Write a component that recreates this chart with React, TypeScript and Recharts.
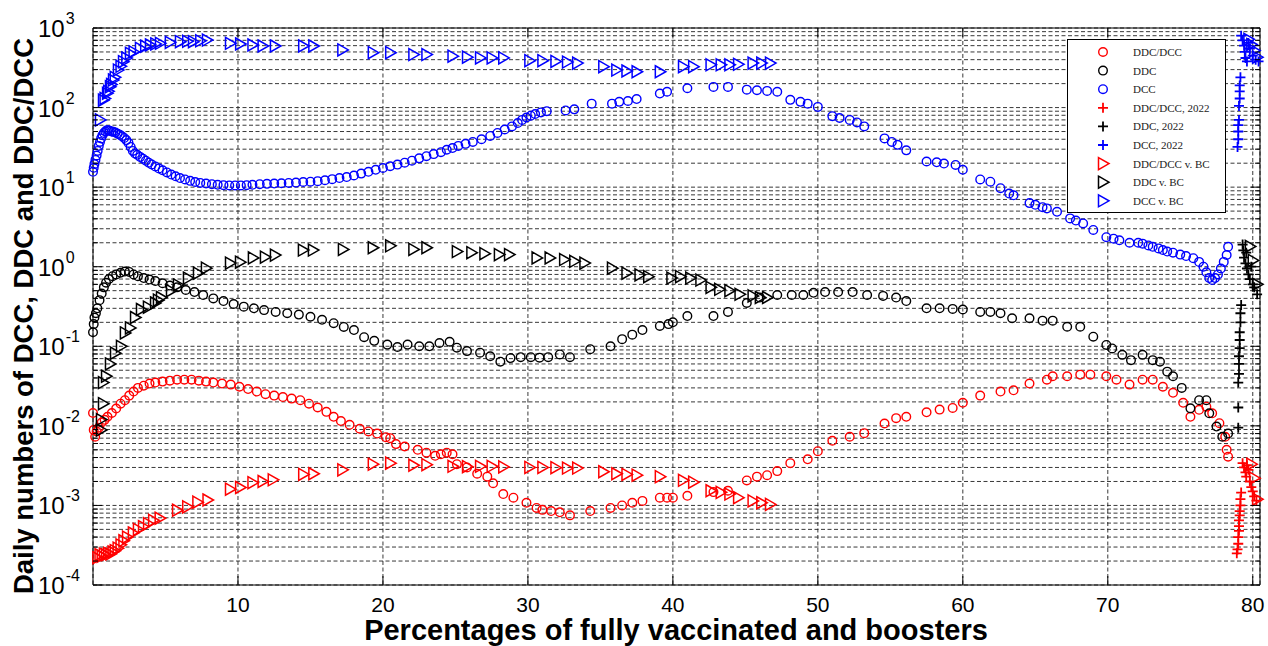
import React from 'react';
import { ScatterChart, Scatter, XAxis, YAxis, CartesianGrid, ReferenceArea, Legend, Label } from 'recharts';

type Pt = [number, number];

// DDC/DCC, circles
const ratioCircles: Pt[] = [
  [0, 0.0145], [0.05, 0.0089], [0.15, 0.0073], [0.25, 0.0085], [0.4, 0.0095], [0.6, 0.011], [0.8, 0.0119],
  [1.0, 0.013], [1.3, 0.0145], [1.6, 0.0165], [1.9, 0.019], [2.2, 0.021], [2.5, 0.024], [2.8, 0.027],
  [3.1, 0.03], [3.5, 0.032], [3.9, 0.034], [4.3, 0.035], [4.8, 0.036], [5.3, 0.037], [5.8, 0.038],
  [6.3, 0.038], [6.8, 0.038], [7.3, 0.037], [7.8, 0.036], [8.3, 0.035], [8.9, 0.034], [9.5, 0.033],
  [10.1, 0.031], [10.7, 0.029], [11.3, 0.027], [11.9, 0.025], [12.5, 0.024], [13.1, 0.023], [13.7, 0.022],
  [14.3, 0.021], [14.9, 0.019], [15.5, 0.017], [16.1, 0.015], [16.6, 0.013], [17.1, 0.0115], [17.7, 0.0103],
  [18.4, 0.0092], [19.0, 0.0085], [19.6, 0.008], [20.2, 0.0072], [20.5, 0.007], [20.9, 0.0059], [21.5, 0.0055],
  [22.4, 0.005], [23.0, 0.0046], [23.6, 0.0042], [24.0, 0.0044], [24.4, 0.0046], [24.8, 0.0044], [25.1, 0.0033],
  [25.8, 0.003], [26.5, 0.0025], [27.2, 0.0023], [27.6, 0.0019], [28.3, 0.00139], [29.0, 0.00125], [29.9, 0.00108],
  [30.6, 0.00093], [31.0, 0.00088], [31.6, 0.00085], [32.2, 0.00082], [32.9, 0.00075], [34.3, 0.00085],
  [35.7, 0.00093], [36.5, 0.001], [37.2, 0.00108], [37.9, 0.00114], [39.1, 0.00125], [39.6, 0.00125],
  [40.0, 0.00125], [41.0, 0.00132], [42.8, 0.00147], [43.8, 0.00153], [45.1, 0.00206], [45.8, 0.0023],
  [46.5, 0.0024], [47.2, 0.0027], [48.1, 0.0034], [49.3, 0.0038], [50.0, 0.0048], [51.0, 0.0065],
  [52.2, 0.0073], [53.2, 0.0081], [54.6, 0.0107], [55.4, 0.0125], [56.1, 0.013], [57.5, 0.0148], [58.4, 0.016],
  [59.3, 0.0168], [60.0, 0.0195], [61.2, 0.024], [62.6, 0.027], [63.5, 0.028], [64.6, 0.034], [65.8, 0.038],
  [66.2, 0.042], [67.2, 0.042], [68.1, 0.044], [68.8, 0.044], [69.9, 0.042], [70.6, 0.038], [71.5, 0.033],
  [72.4, 0.038], [73.1, 0.038], [73.8, 0.031], [74.5, 0.026], [75.2, 0.0195], [75.7, 0.013], [76.3, 0.0159],
  [76.8, 0.0174], [77.2, 0.0144], [77.7, 0.0108], [78.1, 0.0073], [78.2, 0.005], [78.3, 0.0041],
];

// DDC, circles
const ddcCircles: Pt[] = [
  [0, 0.15], [0.05, 0.19], [0.1, 0.23], [0.2, 0.26], [0.3, 0.3], [0.45, 0.38], [0.6, 0.46], [0.75, 0.55],
  [0.9, 0.63], [1.1, 0.7], [1.35, 0.76], [1.6, 0.8], [1.9, 0.84], [2.2, 0.87], [2.5, 0.86], [2.8, 0.8],
  [3.1, 0.76], [3.5, 0.72], [3.9, 0.69], [4.3, 0.66], [4.8, 0.62], [5.3, 0.58], [5.8, 0.55], [6.4, 0.51],
  [7.0, 0.48], [7.6, 0.44], [8.3, 0.4], [9.0, 0.37], [9.7, 0.34], [10.4, 0.315], [11.1, 0.3], [11.8, 0.285],
  [12.6, 0.27], [13.4, 0.26], [14.2, 0.25], [15.0, 0.235], [15.8, 0.215], [16.6, 0.195], [17.3, 0.175],
  [18.0, 0.16], [18.7, 0.13], [19.4, 0.117], [20.3, 0.105], [21.0, 0.098], [21.7, 0.105], [22.5, 0.1],
  [23.2, 0.1], [23.9, 0.11], [24.6, 0.114], [25.1, 0.096], [25.8, 0.087], [26.7, 0.083], [27.4, 0.075],
  [28.1, 0.064], [28.8, 0.071], [29.5, 0.073], [30.2, 0.073], [30.8, 0.072], [31.4, 0.073], [32.2, 0.079],
  [32.9, 0.073], [34.3, 0.092], [35.7, 0.1], [36.5, 0.123], [37.2, 0.14], [37.9, 0.16], [39.1, 0.18],
  [39.7, 0.19], [40.0, 0.2], [41.0, 0.24], [42.8, 0.24], [43.8, 0.27], [45.1, 0.35], [46.0, 0.41],
  [47.2, 0.44], [48.2, 0.44], [49.0, 0.44], [49.7, 0.47], [50.5, 0.48], [51.4, 0.48], [52.4, 0.48],
  [53.4, 0.44], [54.5, 0.43], [55.4, 0.41], [56.1, 0.37], [57.5, 0.3], [58.4, 0.3], [59.3, 0.295], [60.0, 0.29],
  [61.2, 0.27], [61.9, 0.27], [62.6, 0.26], [63.4, 0.225], [64.6, 0.225], [65.5, 0.21], [66.2, 0.21],
  [67.2, 0.176], [68.1, 0.176], [69.0, 0.132], [69.9, 0.104], [70.3, 0.094], [71.0, 0.078], [71.6, 0.067],
  [72.4, 0.078], [73.1, 0.067], [73.6, 0.064], [74.1, 0.048], [74.5, 0.042], [75.1, 0.03], [75.7, 0.0166],
  [76.3, 0.021], [76.8, 0.021], [77.0, 0.0144], [77.5, 0.0098], [77.9, 0.0073], [78.3, 0.008],
];

// DCC, circles
const dccCircles: Pt[] = [
  [0, 15.6], [0.05, 17.5], [0.1, 19.5], [0.17, 22], [0.25, 25], [0.32, 28.5], [0.4, 33], [0.48, 37],
  [0.56, 41], [0.65, 45], [0.75, 48], [0.85, 50], [0.95, 52], [1.05, 52], [1.15, 51], [1.28, 50],
  [1.4, 49.5], [1.55, 48.5], [1.7, 47], [1.85, 45.5], [2.0, 43.5], [2.15, 41.5], [2.3, 39], [2.45, 36],
  [2.6, 32], [2.75, 28.5], [2.9, 26.5], [3.05, 25.5], [3.25, 24], [3.45, 22.8], [3.65, 21.5], [3.85, 20.3],
  [4.05, 19.3], [4.3, 18.2], [4.55, 17.2], [4.8, 16.3], [5.1, 15.3], [5.4, 14.4], [5.7, 13.7], [6.0, 13.0],
  [6.35, 12.5], [6.7, 12.0], [7.05, 11.6], [7.4, 11.3], [7.8, 11.1], [8.2, 10.9], [8.6, 10.7], [9.0, 10.6],
  [9.4, 10.5], [9.8, 10.5], [10.2, 10.5], [10.6, 10.6], [11.0, 10.7], [11.5, 10.9], [12.0, 11.0], [12.5, 11.1],
  [13.0, 11.2], [13.5, 11.3], [14.0, 11.4], [14.5, 11.6], [15.0, 11.7], [15.5, 11.9], [16.0, 12.2],
  [16.5, 12.6], [17.0, 13.0], [17.5, 13.4], [18.0, 14.0], [18.5, 14.8], [19.0, 15.6], [19.5, 16.5],
  [20.0, 17.4], [20.5, 18.3], [21.0, 19.2], [21.5, 20.3], [22.0, 21.5], [22.5, 23], [23.0, 24.5], [23.5, 26],
  [24.0, 27.5], [24.4, 29.5], [24.8, 31], [25.2, 33], [25.7, 35], [26.2, 37], [26.8, 40], [27.4, 44],
  [27.9, 48], [28.4, 53], [28.9, 58], [29.3, 64], [29.6, 70], [29.9, 75], [30.2, 79], [30.5, 83], [30.9, 87],
  [31.3, 90], [32.6, 92], [33.2, 95], [34.4, 112], [35.8, 112], [36.3, 118], [36.9, 121], [37.5, 128],
  [39.1, 150], [39.6, 158], [41.0, 175], [42.8, 182], [43.8, 182], [45.1, 168], [45.8, 165], [46.5, 162],
  [47.2, 158], [48.1, 125], [48.8, 118], [49.3, 112], [50.0, 102], [51.0, 78], [51.5, 74], [52.2, 70],
  [52.7, 65], [53.2, 58], [54.6, 41], [55.1, 37], [55.5, 34], [56.1, 29], [57.5, 21], [58.2, 20.5],
  [58.7, 19.8], [59.5, 19], [60.0, 16.5], [61.2, 12.5], [61.9, 11.7], [62.6, 9.7], [63.2, 8.3], [63.5, 7.9],
  [64.6, 6.3], [65.0, 6.0], [65.5, 5.6], [65.8, 5.4], [66.5, 4.9], [67.4, 4.05], [67.8, 3.8], [68.3, 3.5],
  [69.0, 2.9], [69.9, 2.35], [70.4, 2.25], [70.8, 2.15], [71.5, 2.0], [72.1, 2.0], [72.4, 1.95], [72.8, 1.85],
  [73.1, 1.78], [73.5, 1.7], [73.8, 1.62], [74.1, 1.55], [74.5, 1.5], [75.0, 1.42], [75.4, 1.36], [75.9, 1.28],
  [76.3, 1.15], [76.6, 1.0], [76.8, 0.85], [77.0, 0.72], [77.2, 0.68], [77.4, 0.72], [77.6, 0.8], [77.8, 0.95],
  [78.0, 1.15], [78.2, 1.4], [78.3, 1.78],
];

// 2022 points (plus markers)
const ratio2022: Pt[] = [
  [78.9, 2.5e-4], [78.95, 2.8e-4], [79.0, 3.3e-4], [79.0, 4.0e-4], [79.05, 4.8e-4], [79.05, 5.5e-4],
  [79.05, 6.5e-4], [79.1, 7.5e-4], [79.1, 8.5e-4], [79.15, 1.0e-3], [79.15, 1.2e-3], [79.2, 1.45e-3],
  [79.3, 3.4e-3], [79.4, 3.0e-3], [79.5, 2.6e-3], [79.55, 2.3e-3], [79.6, 3.2e-3], [79.7, 2.8e-3],
  [79.8, 2.0e-3], [79.9, 1.7e-3], [80.0, 1.5e-3], [80.1, 1.3e-3], [80.25, 1.15e-3],
];
const ddc2022: Pt[] = [
  [79.0, 0.0095], [79.0, 0.017], [79.0, 0.035], [79.05, 0.045], [79.05, 0.06], [79.05, 0.075], [79.1, 0.095],
  [79.1, 0.12], [79.1, 0.15], [79.15, 0.2], [79.15, 0.26], [79.2, 0.33], [79.3, 1.9], [79.35, 1.6],
  [79.4, 1.3], [79.5, 1.1], [79.55, 1.5], [79.6, 0.95], [79.7, 0.8], [79.8, 0.7], [79.9, 1.0], [80.0, 0.6],
  [80.1, 0.55], [80.3, 0.45],
];
const dcc2022: Pt[] = [
  [78.95, 32], [79.0, 40], [79.0, 50], [79.0, 60], [79.05, 70], [79.05, 105], [79.1, 130], [79.1, 160],
  [79.1, 190], [79.15, 240], [79.2, 800], [79.3, 700], [79.4, 600], [79.45, 500], [79.5, 420], [79.6, 380],
  [79.7, 650], [79.8, 550], [80.0, 450], [80.2, 400], [80.4, 380],
];

// v. BC (triangle markers)
const ratioBC: Pt[] = [
  [0.3, 2.2e-4], [0.45, 2.4e-4], [0.6, 2.3e-4], [0.75, 2.45e-4], [0.9, 2.4e-4], [1.05, 2.5e-4], [1.2, 2.45e-4],
  [1.35, 2.6e-4], [1.5, 2.7e-4], [1.7, 2.9e-4], [1.9, 3.2e-4], [2.1, 3.6e-4], [2.35, 4.0e-4], [2.75, 4.5e-4],
  [3.1, 5.0e-4], [3.45, 5.4e-4], [3.8, 5.9e-4], [4.15, 6.5e-4], [4.6, 6.9e-4], [5.8, 8.7e-4], [6.5, 9.6e-4],
  [7.2, 1.1e-3], [7.9, 1.17e-3], [9.45, 1.6e-3], [10.15, 1.68e-3], [11.0, 1.93e-3], [11.7, 2.0e-3],
  [12.4, 2.1e-3], [14.5, 2.45e-3], [15.2, 2.5e-3], [17.2, 2.8e-3], [19.3, 3.3e-3], [20.5, 3.4e-3],
  [22.1, 3.2e-3], [23.0, 3.25e-3], [24.8, 3.1e-3], [25.8, 3.07e-3], [26.7, 3.1e-3], [27.5, 3.1e-3],
  [28.3, 3.05e-3], [30.1, 3.0e-3], [31.0, 3.0e-3], [31.9, 2.98e-3], [32.7, 2.95e-3], [33.4, 2.95e-3],
  [35.2, 2.65e-3], [36.1, 2.5e-3], [36.8, 2.45e-3], [37.5, 2.4e-3], [39.1, 2.3e-3], [40.7, 2.07e-3],
  [41.4, 1.96e-3], [42.6, 1.53e-3], [43.3, 1.46e-3], [43.9, 1.39e-3], [44.5, 1.25e-3], [45.5, 1.14e-3],
  [46.1, 1.08e-3], [46.7, 1.03e-3], [79.9, 3.3e-3], [80.1, 2.2e-3], [80.3, 1.2e-3],
];
const ddcBC: Pt[] = [
  [0.55, 0.0089], [0.55, 0.012], [0.69, 0.019], [0.69, 0.035], [0.9, 0.042], [1.17, 0.06], [1.52, 0.082],
  [1.93, 0.1], [2.2, 0.147], [2.55, 0.17], [2.9, 0.23], [3.31, 0.29], [3.79, 0.31], [4.28, 0.35], [4.48, 0.38],
  [4.69, 0.41], [5.38, 0.5], [5.86, 0.59], [6.55, 0.72], [7.24, 0.83], [7.79, 0.96], [9.45, 1.11],
  [10.14, 1.14], [11.03, 1.29], [11.86, 1.32], [12.55, 1.4], [14.48, 1.62], [15.17, 1.62], [17.24, 1.65],
  [19.3, 1.73], [20.5, 1.83], [22.1, 1.65], [23.0, 1.73], [25.1, 1.55], [26.1, 1.5], [27.0, 1.46],
  [28.0, 1.42], [28.7, 1.42], [30.6, 1.29], [31.5, 1.29], [32.5, 1.23], [33.2, 1.17], [33.9, 1.11],
  [35.8, 0.96], [36.8, 0.83], [37.7, 0.79], [38.3, 0.75], [39.9, 0.72], [40.5, 0.75], [41.2, 0.72],
  [41.9, 0.68], [42.6, 0.55], [43.2, 0.52], [43.9, 0.5], [44.6, 0.45], [45.5, 0.43], [46.0, 0.41],
  [46.5, 0.41], [79.8, 1.8], [80.0, 1.2], [80.3, 0.6],
];
const dccBC: Pt[] = [
  [0.48, 70], [0.69, 124], [0.8, 130], [0.97, 151], [1.05, 160], [1.17, 183], [1.25, 195], [1.38, 222],
  [1.5, 240], [1.72, 296], [1.9, 330], [2.07, 377], [2.3, 420], [2.55, 481], [2.8, 500], [3.24, 556],
  [3.6, 590], [3.93, 611], [4.3, 630], [4.62, 642], [5.3, 660], [6.0, 673], [6.5, 680], [6.9, 673],
  [7.4, 690], [7.86, 706], [9.45, 642], [10.15, 629], [11.0, 611], [11.7, 594], [12.55, 594], [14.5, 594],
  [15.2, 594], [17.2, 530], [19.3, 490], [20.5, 490], [22.1, 464], [23.0, 464], [24.8, 442], [25.8, 430],
  [26.7, 421], [27.5, 421], [28.3, 421], [30.1, 388], [31.0, 388], [31.9, 380], [32.7, 373], [33.4, 362],
  [35.2, 327], [36.1, 296], [36.8, 288], [37.5, 282], [39.1, 282], [40.7, 327], [41.4, 327], [42.6, 345],
  [43.3, 345], [43.9, 345], [44.5, 350], [45.5, 362], [46.1, 362], [46.7, 362], [79.7, 720], [79.9, 620],
  [80.1, 520], [80.3, 430],
];

const X_TICKS = [10, 20, 30, 40, 50, 60, 70, 80];
const Y_TICKS: number[] = [];
for (let d = -4; d < 3; d++) for (let m = 1; m < 10; m++) Y_TICKS.push(m * Math.pow(10, d));
Y_TICKS.push(1000);

const W = 1268;
const H = 646;
const LEFT = 93;
const TOP = 28;
const RIGHT = 1260;
const BOTTOM = 585;
const SANS = '"Liberation Sans", Arial, sans-serif';

type Kind = 'circle' | 'plus' | 'tri';

const SERIES: { name: string; color: string; kind: Kind; data: Pt[] }[] = [
  { name: 'DDC/DCC', color: '#ff0000', kind: 'circle', data: ratioCircles },
  { name: 'DDC', color: '#000000', kind: 'circle', data: ddcCircles },
  { name: 'DCC', color: '#0000ff', kind: 'circle', data: dccCircles },
  { name: 'DDC/DCC, 2022', color: '#ff0000', kind: 'plus', data: ratio2022 },
  { name: 'DDC, 2022', color: '#000000', kind: 'plus', data: ddc2022 },
  { name: 'DCC, 2022', color: '#0000ff', kind: 'plus', data: dcc2022 },
  { name: 'DDC/DCC v. BC', color: '#ff0000', kind: 'tri', data: ratioBC },
  { name: 'DDC v. BC', color: '#000000', kind: 'tri', data: ddcBC },
  { name: 'DCC v. BC', color: '#0000ff', kind: 'tri', data: dccBC },
];

function marker(kind: Kind, cx: number, cy: number, color: string) {
  if (kind === 'circle') {
    return <circle cx={cx} cy={cy} r={4.3} fill="none" stroke={color} strokeWidth={1.4} />;
  }
  if (kind === 'plus') {
    return (
      <path d={`M${cx - 5},${cy}H${cx + 5}M${cx},${cy - 5}V${cy + 5}`} stroke={color} strokeWidth={1.8} fill="none" />
    );
  }
  return (
    <polygon
      points={`${cx - 4.5},${cy - 6} ${cx + 6},${cy} ${cx - 4.5},${cy + 6}`}
      fill="none"
      stroke={color}
      strokeWidth={1.5}
      strokeLinejoin="miter"
    />
  );
}

const YTick = (props: any) => {
  const { y, payload } = props;
  const lg = Math.log10(payload.value);
  const e = Math.round(lg);
  const major = Math.abs(lg - e) < 1e-6;
  const len = major ? 9 : 5;
  return (
    <g>
      <line x1={LEFT} x2={LEFT + len} y1={y} y2={y} stroke="#000" />
      <line x1={RIGHT - len} x2={RIGHT} y1={y} y2={y} stroke="#000" />
      {major && (
        <text x={38} y={y + 9} fontSize={24} fontFamily={SANS} fill="#000">
          10
          <tspan fontSize={16} dy={-13} dx={1}>
            {e}
          </tspan>
        </text>
      )}
    </g>
  );
};

const XTick = (props: any) => {
  const { x, payload } = props;
  return (
    <g>
      <line x1={x} x2={x} y1={BOTTOM} y2={BOTTOM - 9} stroke="#000" />
      <line x1={x} x2={x} y1={TOP} y2={TOP + 9} stroke="#000" />
      <text x={x} y={612} textAnchor="middle" fontSize={21} fontFamily={SANS} fill="#000">
        {payload.value}
      </text>
    </g>
  );
};

const renderLegend = () => (
  <svg width={159} height={174} style={{ display: 'block' }}>
    <rect x={0.5} y={0.5} width={158} height={173} fill="#fff" stroke="#000" />
    {SERIES.map((s, i) => {
      const cy = 13 + i * 18.6;
      return (
        <g key={s.name}>
          {marker(s.kind, 36, cy, s.color)}
          <text x={66} y={cy + 4} fontSize={11} fontFamily='"Liberation Serif", "Times New Roman", serif' fill="#222">
            {s.name}
          </text>
        </g>
      );
    })}
  </svg>
);

export default function App() {
  return (
    <div style={{ position: 'absolute', left: 0, top: 0, width: W, height: H, background: '#fff' }}>
      <ScatterChart width={W} height={H} margin={{ top: TOP, right: W - RIGHT, bottom: 0, left: 0 }}>
        <CartesianGrid stroke="#222" strokeDasharray="4 2.5" strokeWidth={0.9} />
        <XAxis
          type="number"
          dataKey="x"
          domain={[0, 80.5]}
          ticks={X_TICKS}
          interval={0}
          height={H - BOTTOM}
          axisLine={false}
          tickLine={false}
          tick={XTick}
        >
          <Label
            content={() => (
              <text x={676} y={640} textAnchor="middle" fontSize={29} fontWeight="bold" fontFamily={SANS} fill="#000">
                Percentages of fully vaccinated and boosters
              </text>
            )}
          />
        </XAxis>
        <YAxis
          type="number"
          dataKey="y"
          scale="log"
          domain={[1e-4, 1e3]}
          ticks={Y_TICKS}
          interval={0}
          width={LEFT}
          axisLine={false}
          tickLine={false}
          tick={YTick}
        >
          <Label
            content={() => (
              <text
                transform="translate(33, 316) rotate(-90)"
                textAnchor="middle"
                fontSize={27.5}
                fontWeight="bold"
                fontFamily={SANS}
                fill="#000"
              >
                Daily numbers of DCC, DDC and DDC/DCC
              </text>
            )}
          />
        </YAxis>
        <ReferenceArea x1={0} x2={80.5} y1={1e-4} y2={1e3} fill="none" stroke="#000" strokeWidth={1} ifOverflow="visible" />
        {SERIES.map((s) => (
          <Scatter
            key={s.name}
            name={s.name}
            data={s.data.map(([x, y]) => ({ x, y }))}
            isAnimationActive={false}
            shape={(p: any) => marker(s.kind, p.cx, p.cy, s.color)}
          />
        ))}
        <Legend
          layout="vertical"
          align="center"
          verticalAlign="middle"
          wrapperStyle={{ left: 1067, top: 39, width: 159, height: 174 }}
          content={renderLegend}
        />
      </ScatterChart>
    </div>
  );
}
